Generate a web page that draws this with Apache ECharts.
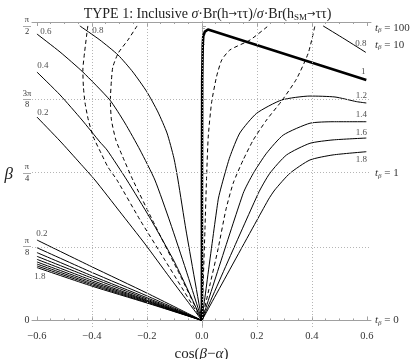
<!DOCTYPE html>
<html>
<head>
<meta charset="utf-8">
<script src="https://cdn.jsdelivr.net/npm/echarts@6/dist/echarts.min.js"></script>
<style>
    html, body { margin: 0; padding: 0; background: #fff; }
    #chart { width: 415px; height: 359px; }
</style>
</head>
<body>
<div id="chart"></div>
<script>
// tick labels
var xTicks = [-0.6, -0.4, -0.2, 0, 0.2, 0.4, 0.6];
var xMinorTicks = [-0.55, -0.5, -0.45, -0.35, -0.3, -0.25, -0.15, -0.1, -0.05,
    0.05, 0.1, 0.15, 0.25, 0.3, 0.35, 0.45, 0.5, 0.55];
var betaEighths = [0, 1, 2, 3, 4];            // beta = k * pi/8
var betaLabels = ["0", "{n|π}\n{b|—}\n{d|8}", "{n|π}\n{b|—}\n{d|4}", "{n|3π}\n{b|—}\n{d|8}", "{n|π}\n{b|—}\n{d|2}"];
var tanBetaTicks = [0, 1, 10, 100];

// contour lines [cos(beta-alpha), beta]
// upper left family
var up02 = [[-0.6, 1.085], [-0.516, 0.957], [-0.444, 0.840], [-0.389, 0.749], [-0.298, 0.579], [-0.207, 0.408], [-0.116, 0.227], [0, 0]];
var up04 = [[-0.6, 1.325], [-0.516, 1.203], [-0.436, 1.069], [-0.371, 0.952], [-0.345, 0.909], [-0.273, 0.749], [-0.189, 0.547], [-0.098, 0.307], [0, 0]];
var up06 = [[-0.6, 1.528], [-0.516, 1.432], [-0.433, 1.325], [-0.335, 1.176], [-0.280, 1.053], [-0.225, 0.909], [-0.171, 0.749], [-0.116, 0.525], [-0.058, 0.269], [0, 0]];
var up08 = [[-0.444, 1.571], [-0.371, 1.496], [-0.305, 1.416], [-0.251, 1.325], [-0.2, 1.219], [-0.16, 1.112], [-0.127, 1.0], [-0.102, 0.867], [-0.087, 0.749], [-0.058, 0.483], [0, 0]];
// lower left family
var lo02 = [[-0.6, 0.429], [-0.4, 0.286], [-0.2, 0.146], [0, 0]];
var lo04 = [[-0.6, 0.388], [-0.4, 0.256], [-0.2, 0.131], [0, 0]];
var lo06 = [[-0.6, 0.362], [-0.4, 0.238], [-0.2, 0.121], [0, 0]];
var lo08 = [[-0.6, 0.342], [-0.4, 0.226], [-0.2, 0.114], [0, 0]];
var lo10 = [[-0.6, 0.326], [-0.4, 0.214], [-0.2, 0.108], [0, 0]];
var lo12 = [[-0.6, 0.312], [-0.4, 0.205], [-0.2, 0.104], [0, 0]];
var lo14 = [[-0.6, 0.301], [-0.4, 0.197], [-0.2, 0.100], [0, 0]];
var lo16 = [[-0.6, 0.291], [-0.4, 0.190], [-0.2, 0.096], [0, 0]];
var lo18 = [[-0.6, 0.282], [-0.4, 0.183], [-0.2, 0.093], [0, 0]];
// right side
var r08 = [[0.441, 1.571], [0.52, 1.500], [0.596, 1.430]];
var r10 = [[0, 0], [0, 0.64], [0.001, 1.283], [0.003, 1.469], [0.005, 1.517], [0.011, 1.541], [0.022, 1.552], [0.598, 1.283]];
var r12 = [[0, 0], [0.059, 0.643], [0.077, 0.749], [0.102, 0.874], [0.138, 1.0], [0.199, 1.105], [0.290, 1.176], [0.393, 1.197], [0.484, 1.192], [0.563, 1.167], [0.598, 1.160]];
var r14 = [[0, 0], [0.150, 0.678], [0.187, 0.785], [0.235, 0.892], [0.296, 0.989], [0.393, 1.052], [0.477, 1.060], [0.598, 1.060]];
var r16 = [[0, 0], [0.205, 0.678], [0.247, 0.785], [0.308, 0.883], [0.393, 0.945], [0.477, 0.963], [0.598, 0.973]];
var r18 = [[0, 0], [0.241, 0.643], [0.265, 0.696], [0.320, 0.785], [0.393, 0.856], [0.477, 0.883], [0.598, 0.900]];
// dashed lines
var dashA = [[-0.415, 1.571], [-0.427, 1.427], [-0.433, 1.336], [-0.431, 1.245], [-0.425, 1.160], [-0.413, 1.069], [-0.395, 0.979], [-0.367, 0.893], [-0.342, 0.819], [-0.309, 0.749], [-0.225, 0.536], [-0.135, 0.323], [0, 0]];
var dashB = [[-0.236, 1.571], [-0.269, 1.496], [-0.304, 1.427], [-0.324, 1.352], [-0.329, 1.283], [-0.333, 1.176], [-0.329, 1.069], [-0.313, 0.963], [-0.291, 0.883], [-0.251, 0.749], [-0.171, 0.509], [-0.080, 0.243], [0, 0]];
var dashC = [[0, 0], [0.005, 0.216], [0.011, 0.483], [0.017, 0.765], [0.023, 0.979], [0.035, 1.160], [0.053, 1.299], [0.072, 1.389], [0.102, 1.443], [0.175, 1.496], [0.241, 1.571]];
var dashD = [[0, 0], [0.029, 0.189], [0.058, 0.376], [0.087, 0.589], [0.114, 0.733], [0.150, 0.856], [0.187, 0.963], [0.235, 1.069], [0.290, 1.171], [0.344, 1.288], [0.387, 1.427], [0.411, 1.571]];

var serif = "Liberation Serif";
var xMin = -0.618, xMax = 0.615, yMin = -0.035, yMax = 1.592;

function solid(d, w) {
    return {
        type: "line", data: d, showSymbol: false, smooth: 0.2, silent: true,
        lineStyle: { color: "#000", width: w || 1 }, z: 3
    };
}
function dashed(d) {
    return {
        type: "line", data: d, showSymbol: false, smooth: 0.2, silent: true,
        lineStyle: { color: "#000", width: 1, type: [4, 3] }, z: 3
    };
}

// contour labels: line, end, text, pixel offset
var labelSpec = [
    [up06, 0, "0.6", [9, -2]],
    [up04, 0, "0.4", [6, -6]],
    [up02, 0, "0.2", [6, -4]],
    [up08, 0, "0.8", [18, 5]],
    [lo02, 0, "0.2", [5, -6]],
    [lo18, 0, "1.8", [3, 9]],
    [r08, -1, "0.8", [-5, -9]],
    [r10, -1, "1", [-3, -8]],
    [r12, -1, "1.2", [-5, -7]],
    [r14, -1, "1.4", [-5, -7]],
    [r16, -1, "1.6", [-5, -5]],
    [r18, -1, "1.8", [-5, 8]]
];
var labelData = labelSpec.map(function(s) {
    var p = s[1] === 0 ? s[0][0] : s[0][s[0].length - 1];
    return { value: p, name: s[2], label: { offset: s[3] } };
});

var series = [
    {
        type: "line", data: [], silent: true,
        markLine: {
            silent: true, symbol: "none", label: { show: false },
            lineStyle: { color: "#b5b5b5", type: [1, 2], width: 1 },
            data: [
                { xAxis: -0.4 }, { xAxis: -0.2 }, { xAxis: 0 }, { xAxis: 0.2 }, { xAxis: 0.4 },
                { yAxis: Math.PI / 8 }, { yAxis: Math.PI / 4 }, { yAxis: 3 * Math.PI / 8 }
            ]
        }
    },
    solid(up02), solid(up04), solid(up06), solid(up08),
    solid(lo02), solid(lo04), solid(lo06), solid(lo08), solid(lo10),
    solid(lo12), solid(lo14), solid(lo16), solid(lo18),
    solid(r08), solid(r12), solid(r14), solid(r16), solid(r18),
    dashed(dashA), dashed(dashB), dashed(dashC), dashed(dashD),
    {
        type: "line", data: r10, showSymbol: false, smooth: false, silent: true,
        lineStyle: { color: "#000", width: 2.6, join: "round" }, z: 4
    },
    {
        type: "scatter", data: labelData, symbolSize: 0, silent: true, z: 5,
        label: {
            show: true, position: "inside", formatter: "{b}",
            fontFamily: serif, fontSize: 9, color: "#222"
        }
    }
];

var frame = { show: true, lineStyle: { color: "#a0a0a0", width: 1 } };
function tickAxis(pos, values, len, showLine) {
    return {
        type: "value", min: xMin, max: xMax, position: pos,
        axisLine: showLine ? frame : { show: false },
        axisTick: { customValues: values, inside: true, length: len, lineStyle: { color: "#a0a0a0" } },
        axisLabel: { show: false }, splitLine: { show: false }
    };
}

var option = {
    animation: false,
    backgroundColor: "#fff",
    title: {
        text: "TYPE 1: Inclusive {i|σ}·Br(h{a|→}ττ)/{i|σ}·Br(h{s|SM}{a|→}ττ)",
        left: "center", top: 2,
        textStyle: {
            fontFamily: serif, fontSize: 14, fontWeight: "normal", color: "#222",
            rich: {
                i: { fontFamily: serif, fontSize: 14, fontStyle: "italic", color: "#222" },
                a: { fontFamily: "DejaVu Sans", fontSize: 10, color: "#222" },
                s: { fontFamily: serif, fontSize: 9, color: "#222", verticalAlign: "bottom", padding: [6, 0, 0, 0] }
            }
        }
    },
    grid: { left: 32, right: 44, top: 22, bottom: 32, outerBoundsMode: "none", containLabel: false },
    xAxis: [
        {
            type: "value", min: xMin, max: xMax, position: "bottom",
            axisLine: frame,
            axisTick: { customValues: xTicks, inside: true, length: 4, lineStyle: { color: "#a0a0a0" } },
            axisLabel: {
                customValues: xTicks, margin: 4,
                fontFamily: serif, fontSize: 10.5, color: "#333",
                formatter: function(v) { return v.toFixed(1).replace("-", "−"); }
            },
            splitLine: { show: false },
            name: "cos({i|β}−{i|α})", nameLocation: "middle", nameGap: 16,
            nameTextStyle: {
                fontFamily: serif, fontSize: 15, color: "#222",
                rich: { i: { fontFamily: serif, fontSize: 15, fontStyle: "italic", color: "#222" } }
            }
        },
        tickAxis("bottom", xMinorTicks, 2, false),
        tickAxis("top", xTicks, 4, true),
        tickAxis("top", xMinorTicks, 2, false)
    ],
    yAxis: [
        {
            type: "value", min: yMin, max: yMax, position: "left",
            axisLine: frame,
            axisTick: {
                customValues: betaEighths.map(function(k) { return k * Math.PI / 8; }),
                inside: true, length: 4, lineStyle: { color: "#a0a0a0" }
            },
            axisLabel: {
                customValues: betaEighths.map(function(k) { return k * Math.PI / 8; }),
                margin: 5, fontFamily: serif, fontSize: 10, color: "#333", align: "center",
                formatter: function(v) { return betaLabels[Math.round(v / (Math.PI / 8))]; },
                rich: {
                    n: { fontFamily: serif, fontSize: 8.5, lineHeight: 8, color: "#333", align: "center" },
                    b: { fontFamily: serif, fontSize: 8, lineHeight: 3, color: "#333", align: "center" },
                    d: { fontFamily: serif, fontSize: 8.5, lineHeight: 9, color: "#333", align: "center" }
                }
            },
            splitLine: { show: false },
            name: "β", nameLocation: "middle", nameGap: 19, nameRotate: 0,
            nameTextStyle: { fontFamily: serif, fontSize: 17, fontStyle: "italic", color: "#222" }
        },
        {
            type: "value", min: yMin, max: yMax, position: "right",
            axisLine: frame,
            axisTick: {
                customValues: tanBetaTicks.map(function(t) { return Math.atan(t); }),
                inside: false, length: 3, lineStyle: { color: "#a0a0a0" }
            },
            axisLabel: {
                customValues: tanBetaTicks.map(function(t) { return Math.atan(t); }),
                margin: 4, fontFamily: serif, fontSize: 11, color: "#333",
                formatter: function(v) {
                    var best = tanBetaTicks[0];
                    tanBetaTicks.forEach(function(t) {
                        if (Math.abs(Math.atan(t) - v) < Math.abs(Math.atan(best) - v)) best = t;
                    });
                    return "{t|t}{s|β}{n| = " + best + "}";
                },
                rich: {
                    t: { fontFamily: serif, fontSize: 11, fontStyle: "italic", color: "#333" },
                    s: { fontFamily: serif, fontSize: 7, fontStyle: "italic", color: "#333", padding: [5, 0, 0, 0] },
                    n: { fontFamily: serif, fontSize: 11, color: "#333" }
                }
            },
            splitLine: { show: false }
        }
    ],
    series: series
};

var myChart = echarts.init(document.getElementById("chart"));
myChart.setOption(option);
</script>
</body>
</html>
